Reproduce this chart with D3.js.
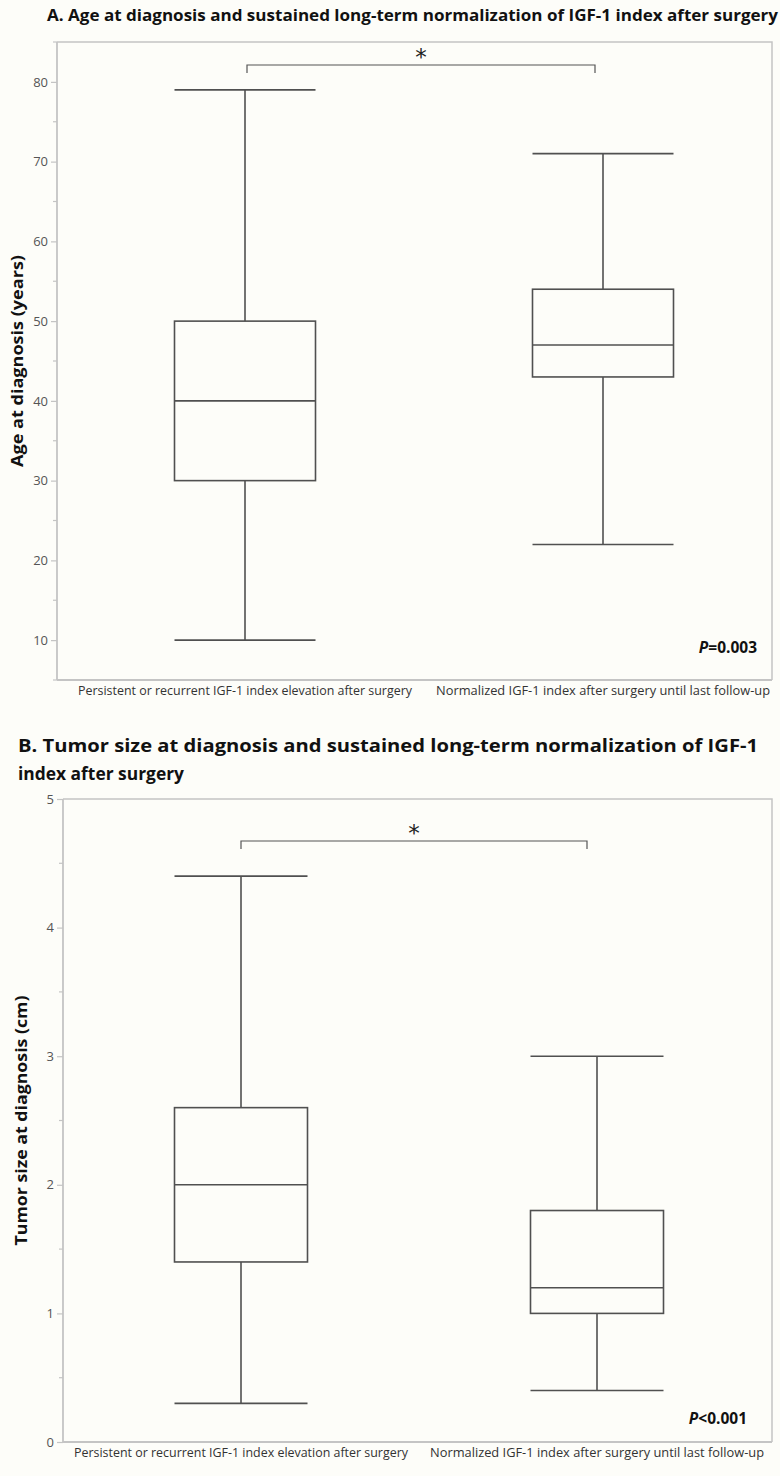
<!DOCTYPE html>
<html>
<head>
<meta charset="utf-8">
<script src="https://cdn.jsdelivr.net/npm/d3@7"></script>
<style>
  html, body { margin: 0; padding: 0; background: #fdfdf9; }
  svg { display: block; }
</style>
</head>
<body>
<svg id="chart" width="780" height="1476"></svg>
<script>
// ---------- DATA ----------
const categories = [
  "Persistent or recurrent IGF-1 index elevation after surgery",
  "Normalized IGF-1 index after surgery until last follow-up"
];
// Panel A: age at diagnosis (years) [min, q1, median, q3, max]
const ageMin    = [10, 22];
const ageQ1     = [30, 43];
const ageMedian = [40, 47];
const ageQ3     = [50, 54];
const ageMax    = [79, 71];
const ageTicks  = [10, 20, 30, 40, 50, 60, 70, 80];
// Panel B: tumor size at diagnosis (cm)
const sizeMin    = [0.3, 0.4];
const sizeQ1     = [1.4, 1.0];
const sizeMedian = [2.0, 1.2];
const sizeQ3     = [2.6, 1.8];
const sizeMax    = [4.4, 3.0];
const sizeTicks  = [0, 1, 2, 3, 4, 5];

const titleA = "A. Age at diagnosis and sustained long-term normalization of IGF-1 index after surgery";
const titleB1 = "B. Tumor size at diagnosis and sustained long-term normalization of IGF-1";
const titleB2 = "index after surgery";
const yLabelA = "Age at diagnosis (years)";
const yLabelB = "Tumor size at diagnosis (cm)";
const pA = "0.003", pAop = "=";
const pB = "0.001", pBop = "<";

// ---------- DRAW ----------
const svg = d3.select("#chart");
const boxColor = "#505050";
const axisColor = "#c4c4c4";
const tickText = "#555";
const fontBody = "'Open Sans', 'Noto Sans', sans-serif";

function panel(cfg) {
  const g = svg.append("g");
  const y = d3.scaleLinear().domain(cfg.domain).range([cfg.bottom, cfg.top]);
  const x = d3.scalePoint().domain(categories).range(cfg.centers);

  // frame (top and right)
  g.append("path")
    .attr("d", `M${cfg.left},${cfg.top}H${cfg.right}V${cfg.bottom}`)
    .attr("fill", "none").attr("stroke", axisColor).attr("stroke-width", 1.5);

  // y axis
  const ya = d3.axisLeft(y).tickValues(cfg.ticks).tickSize(6).tickPadding(3)
    .tickFormat(d3.format("d"));
  const yAxis = g.append("g").attr("transform", `translate(${cfg.left},0)`).call(ya);
  yAxis.select(".domain").remove();
  yAxis.selectAll(".tick line").attr("stroke", axisColor).attr("stroke-width", 1.2);
  yAxis.selectAll(".tick text").attr("fill", tickText)
    .style("font-family", fontBody).style("font-size", "13px");
  // minor ticks
  const minor = d3.range(cfg.domain[0], cfg.domain[1] + 1e-9, cfg.minorStep)
    .filter(v => !cfg.ticks.some(t => Math.abs(t - v) < 1e-9));
  g.selectAll(".minor").data(minor).join("line")
    .attr("x1", cfg.left - 4).attr("x2", cfg.left)
    .attr("y1", d => y(d)).attr("y2", d => y(d))
    .attr("stroke", axisColor).attr("stroke-width", 1.2);
  // left axis line + bottom axis line
  g.append("line").attr("x1", cfg.left).attr("x2", cfg.left)
    .attr("y1", cfg.top).attr("y2", cfg.bottom)
    .attr("stroke", axisColor).attr("stroke-width", 1.8);
  g.append("line").attr("x1", cfg.left).attr("x2", cfg.right)
    .attr("y1", cfg.bottom).attr("y2", cfg.bottom)
    .attr("stroke", axisColor).attr("stroke-width", 1.8);

  // x labels
  g.selectAll(".xl").data(categories).join("text")
    .attr("x", d => x(d)).attr("y", cfg.bottom + 15)
    .attr("text-anchor", "middle")
    .attr("textLength", 334).attr("lengthAdjust", "spacingAndGlyphs")
    .attr("fill", "#333").style("font-family", fontBody).style("font-size", "13px")
    .text(d => d);

  // boxes
  const data = categories.map((c, i) => ({
    c, min: cfg.min[i], q1: cfg.q1[i], med: cfg.med[i], q3: cfg.q3[i], max: cfg.max[i]
  }));
  const hw = cfg.boxWidth / 2;
  const bg = g.selectAll(".box").data(data).join("g")
    .attr("fill", "none").attr("stroke", boxColor).attr("stroke-width", 1.6);
  bg.append("line").attr("x1", d => x(d.c)).attr("x2", d => x(d.c))
    .attr("y1", d => y(d.max)).attr("y2", d => y(d.q3));
  bg.append("line").attr("x1", d => x(d.c)).attr("x2", d => x(d.c))
    .attr("y1", d => y(d.q1)).attr("y2", d => y(d.min));
  bg.append("line").attr("x1", d => x(d.c) - hw).attr("x2", d => x(d.c) + hw)
    .attr("y1", d => y(d.max)).attr("y2", d => y(d.max));
  bg.append("line").attr("x1", d => x(d.c) - hw).attr("x2", d => x(d.c) + hw)
    .attr("y1", d => y(d.min)).attr("y2", d => y(d.min));
  bg.append("rect").attr("x", d => x(d.c) - hw).attr("width", cfg.boxWidth)
    .attr("y", d => y(d.q3)).attr("height", d => y(d.q1) - y(d.q3));
  bg.append("line").attr("x1", d => x(d.c) - hw).attr("x2", d => x(d.c) + hw)
    .attr("y1", d => y(d.med)).attr("y2", d => y(d.med));

  // significance bracket
  const bx1 = x(categories[0]) + cfg.bracketOff[0], bx2 = x(categories[1]) + cfg.bracketOff[1];
  g.append("path")
    .attr("d", `M${bx1},${cfg.bracketY + 8}V${cfg.bracketY}H${bx2}V${cfg.bracketY + 8}`)
    .attr("fill", "none").attr("stroke", "#555").attr("stroke-width", 1.2);
  g.append("text").attr("x", (bx1 + bx2) / 2).attr("y", cfg.bracketY)
    .attr("text-anchor", "middle").attr("fill", "#222")
    .style("font-family", "'DejaVu Sans', sans-serif").style("font-size", "23px")
    .text("*");

  // P value
  const pt = g.append("text").attr("x", cfg.pX).attr("y", cfg.pY)
    .attr("text-anchor", "end").attr("fill", "#111")
    .style("font-family", fontBody).style("font-size", "15.5px").style("font-weight", "bold");
  pt.append("tspan").style("font-style", "italic").text("P");
  pt.append("tspan").text(cfg.pOp + cfg.pVal);

  // y label
  g.append("text")
    .attr("transform", `translate(${cfg.yLabelX},${(cfg.top + cfg.bottom) / 2}) rotate(-90)`)
    .attr("text-anchor", "middle").attr("fill", "#111")
    .attr("textLength", cfg.yLabelLen).attr("lengthAdjust", "spacingAndGlyphs")
    .style("font-family", fontBody).style("font-size", "15.5px").style("font-weight", "bold")
    .text(cfg.yLabel);
}

panel({
  domain: [5, 85], top: 42, bottom: 680, left: 57, right: 772,
  centers: [245, 603], boxWidth: 141,
  ticks: ageTicks, minorStep: 5,
  min: ageMin, q1: ageQ1, med: ageMedian, q3: ageQ3, max: ageMax,
  bracketY: 65, bracketOff: [2, -8],
  pX: 757, pY: 653, pOp: pAop, pVal: pA,
  yLabel: yLabelA, yLabelX: 23, yLabelLen: 212
});

panel({
  domain: [0, 5], top: 799, bottom: 1442, left: 63, right: 772,
  centers: [241, 597], boxWidth: 133,
  ticks: sizeTicks, minorStep: 0.5,
  min: sizeMin, q1: sizeQ1, med: sizeMedian, q3: sizeQ3, max: sizeMax,
  bracketY: 841, bracketOff: [0, -10],
  pX: 747, pY: 1424, pOp: pBop, pVal: pB,
  yLabel: yLabelB, yLabelX: 27, yLabelLen: 250
});

// titles
svg.append("text").attr("x", 47).attr("y", 21)
  .attr("textLength", 731).attr("lengthAdjust", "spacingAndGlyphs")
  .attr("fill", "#111").style("font-family", fontBody)
  .style("font-size", "16px").style("font-weight", "bold").text(titleA);
svg.append("text").attr("x", 18).attr("y", 752)
  .attr("textLength", 740).attr("lengthAdjust", "spacingAndGlyphs")
  .attr("fill", "#111").style("font-family", fontBody)
  .style("font-size", "17px").style("font-weight", "bold").text(titleB1);
svg.append("text").attr("x", 18).attr("y", 780)
  .attr("textLength", 166).attr("lengthAdjust", "spacingAndGlyphs")
  .attr("fill", "#111").style("font-family", fontBody)
  .style("font-size", "17px").style("font-weight", "bold").text(titleB2);
</script>
</body>
</html>
